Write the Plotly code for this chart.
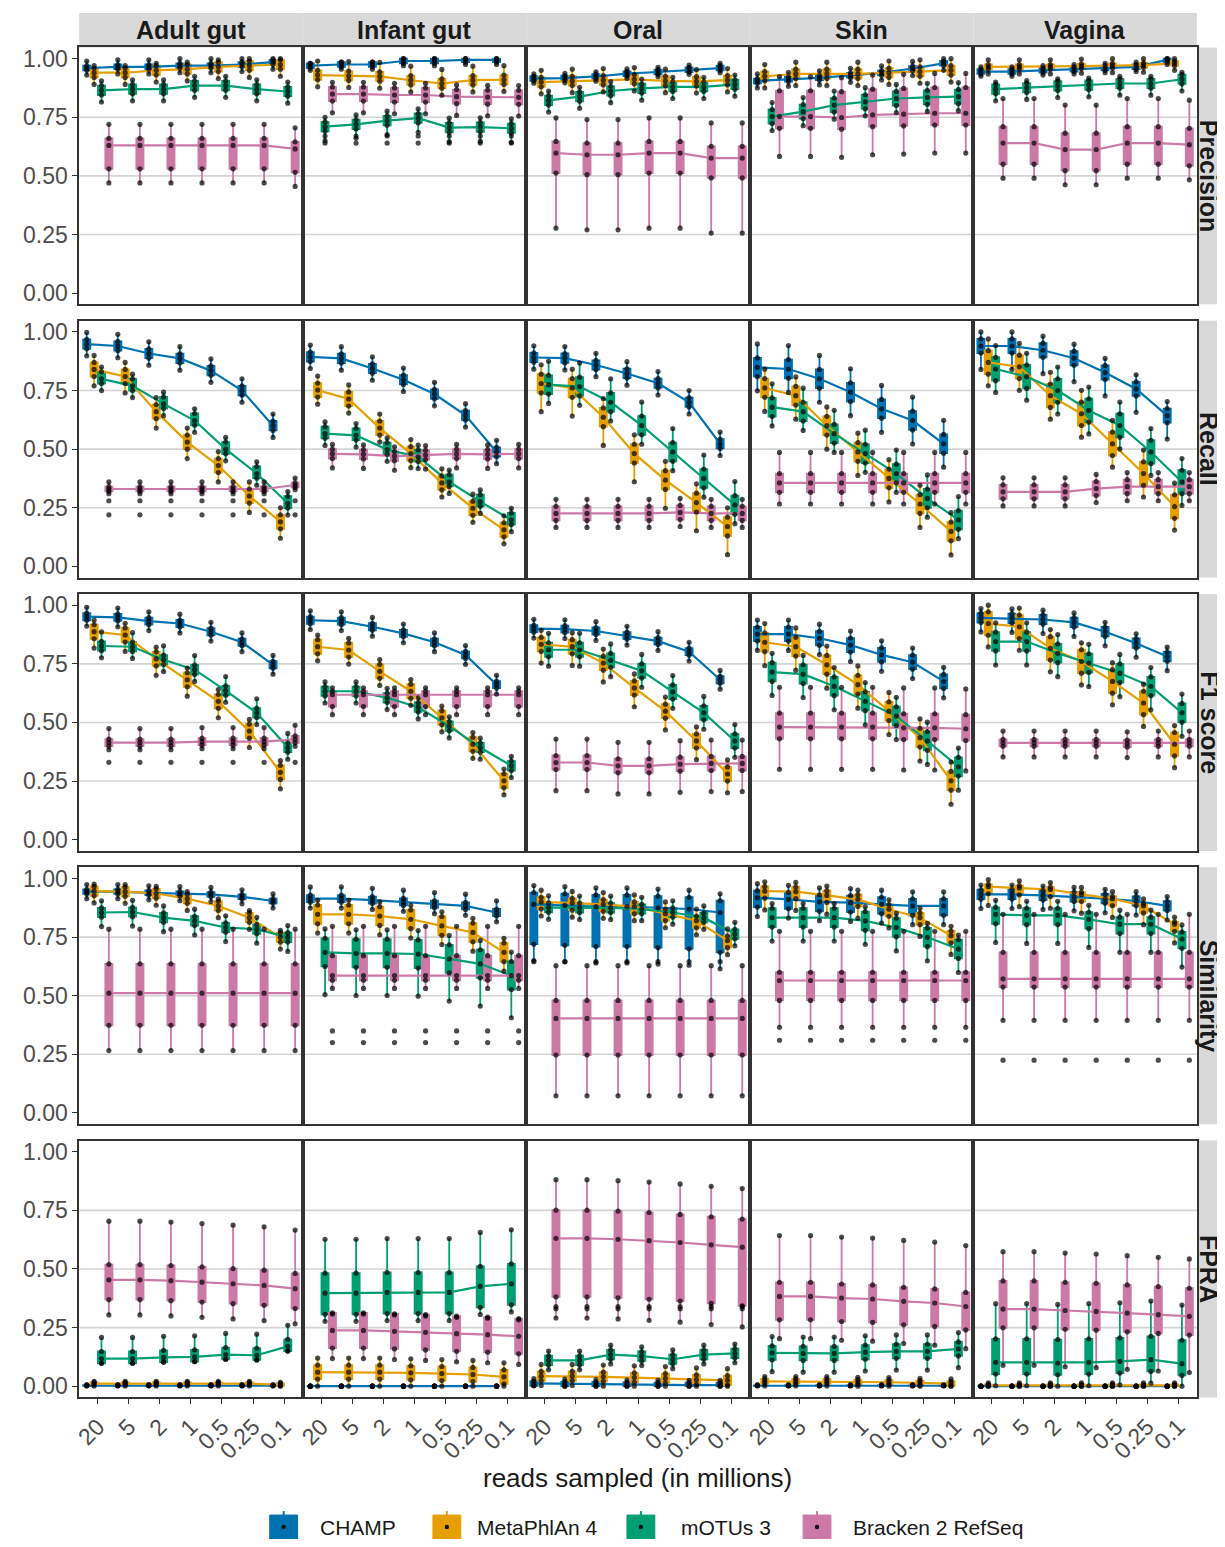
import plotly.graph_objects as go

# ---------------- data ----------------
DEPTHS = ["20", "5", "2", "1", "0.5", "0.25", "0.1"]
ENVIRONMENTS = ["Adult gut", "Infant gut", "Oral", "Skin", "Vagina"]
TOOLS = ["CHAMP", "MetaPhlAn 4", "mOTUs 3", "Bracken 2 RefSeq"]
METRICS = ["Precision", "Recall", "F1 score", "Similarity", "FPRA"]
COLORS = ["#0072B2", "#E69F00", "#009E73", "#CC79A7"]

# medians per environment: one list of 7 depths per tool (CHAMP, MetaPhlAn 4, mOTUs 3, Bracken)
PRECISION_MEDIANS = {
    "Adult gut": [[0.960, 0.965, 0.965, 0.970, 0.970, 0.975, 0.985],
                  [0.940, 0.940, 0.950, 0.955, 0.965, 0.970, 0.975],
                  [0.865, 0.870, 0.870, 0.885, 0.885, 0.870, 0.860],
                  [0.630, 0.630, 0.630, 0.630, 0.630, 0.630, 0.615]],
    "Infant gut": [[0.970, 0.975, 0.975, 0.990, 0.990, 0.995, 0.995],
                   [0.930, 0.927, 0.924, 0.908, 0.894, 0.908, 0.910],
                   [0.710, 0.720, 0.736, 0.746, 0.706, 0.708, 0.703],
                   [0.849, 0.849, 0.845, 0.845, 0.838, 0.836, 0.835]],
    "Oral": [[0.915, 0.917, 0.924, 0.936, 0.943, 0.953, 0.960],
             [0.900, 0.905, 0.908, 0.912, 0.905, 0.903, 0.908],
             [0.822, 0.838, 0.862, 0.873, 0.880, 0.880, 0.890],
             [0.597, 0.590, 0.590, 0.597, 0.597, 0.576, 0.576]],
    "Skin": [[0.905, 0.912, 0.918, 0.929, 0.939, 0.958, 0.980],
             [0.925, 0.935, 0.935, 0.935, 0.940, 0.945, 0.950],
             [0.753, 0.774, 0.802, 0.816, 0.830, 0.835, 0.838],
             [0.753, 0.753, 0.749, 0.760, 0.763, 0.767, 0.767]],
    "Vagina": [[0.945, 0.945, 0.950, 0.955, 0.960, 0.965, 0.995],
               [0.965, 0.965, 0.965, 0.968, 0.970, 0.972, 0.980],
               [0.870, 0.876, 0.884, 0.887, 0.894, 0.894, 0.912],
               [0.640, 0.640, 0.612, 0.612, 0.640, 0.640, 0.633]],
}
RECALL_MEDIANS = {
    "Adult gut": [[0.948, 0.940, 0.908, 0.887, 0.835, 0.750, 0.600],
                  [0.840, 0.810, 0.660, 0.530, 0.430, 0.300, 0.190],
                  [0.800, 0.770, 0.693, 0.622, 0.500, 0.396, 0.269],
                  [0.330, 0.330, 0.330, 0.330, 0.330, 0.330, 0.347]],
    "Infant gut": [[0.894, 0.887, 0.844, 0.796, 0.735, 0.644, 0.488],
                   [0.752, 0.714, 0.590, 0.481, 0.356, 0.248, 0.156],
                   [0.566, 0.559, 0.498, 0.467, 0.361, 0.276, 0.198],
                   [0.480, 0.478, 0.470, 0.475, 0.480, 0.478, 0.480]],
    "Oral": [[0.891, 0.888, 0.859, 0.823, 0.781, 0.700, 0.523],
             [0.780, 0.761, 0.636, 0.481, 0.368, 0.272, 0.170],
             [0.775, 0.767, 0.700, 0.601, 0.488, 0.375, 0.262],
             [0.226, 0.226, 0.226, 0.226, 0.230, 0.226, 0.226]],
    "Skin": [[0.849, 0.842, 0.800, 0.743, 0.672, 0.622, 0.523],
             [0.761, 0.728, 0.600, 0.488, 0.375, 0.266, 0.149],
             [0.679, 0.660, 0.566, 0.481, 0.396, 0.290, 0.198],
             [0.356, 0.356, 0.356, 0.356, 0.356, 0.356, 0.356]],
    "Vagina": [[0.940, 0.940, 0.922, 0.888, 0.827, 0.757, 0.643],
               [0.870, 0.851, 0.728, 0.651, 0.523, 0.396, 0.255],
               [0.842, 0.809, 0.750, 0.665, 0.601, 0.488, 0.360],
               [0.318, 0.318, 0.318, 0.332, 0.340, 0.340, 0.340]],
}
F1_MEDIANS = {
    "Adult gut": [[0.951, 0.948, 0.932, 0.922, 0.887, 0.842, 0.746],
                  [0.887, 0.873, 0.771, 0.682, 0.590, 0.463, 0.287],
                  [0.826, 0.823, 0.767, 0.725, 0.636, 0.541, 0.393],
                  [0.414, 0.414, 0.414, 0.418, 0.418, 0.418, 0.428]],
    "Infant gut": [[0.936, 0.932, 0.908, 0.880, 0.842, 0.788, 0.661],
                   [0.823, 0.809, 0.718, 0.633, 0.520, 0.407, 0.251],
                   [0.633, 0.633, 0.605, 0.565, 0.484, 0.393, 0.315],
                   [0.618, 0.618, 0.618, 0.618, 0.618, 0.618, 0.618]],
    "Oral": [[0.900, 0.898, 0.890, 0.870, 0.847, 0.802, 0.682],
             [0.833, 0.823, 0.753, 0.647, 0.548, 0.421, 0.280],
             [0.810, 0.810, 0.765, 0.720, 0.630, 0.541, 0.421],
             [0.329, 0.329, 0.315, 0.315, 0.322, 0.325, 0.325]],
    "Skin": [[0.877, 0.877, 0.859, 0.830, 0.788, 0.757, 0.675],
             [0.842, 0.823, 0.746, 0.661, 0.548, 0.435, 0.251],
             [0.715, 0.706, 0.654, 0.590, 0.527, 0.421, 0.311],
             [0.480, 0.480, 0.480, 0.480, 0.477, 0.477, 0.473]],
    "Vagina": [[0.946, 0.944, 0.939, 0.927, 0.887, 0.838, 0.781],
               [0.922, 0.908, 0.816, 0.760, 0.675, 0.583, 0.407],
               [0.845, 0.845, 0.795, 0.753, 0.710, 0.654, 0.541],
               [0.413, 0.413, 0.413, 0.413, 0.410, 0.413, 0.413]],
}
SIMILARITY_MEDIANS = {
    "Adult gut": [[0.944, 0.944, 0.939, 0.935, 0.932, 0.922, 0.904],
                  [0.946, 0.944, 0.936, 0.914, 0.883, 0.833, 0.749],
                  [0.855, 0.857, 0.833, 0.819, 0.791, 0.784, 0.749],
                  [0.511, 0.511, 0.511, 0.511, 0.511, 0.511, 0.511]],
    "Infant gut": [[0.914, 0.914, 0.908, 0.900, 0.890, 0.883, 0.855],
                   [0.847, 0.847, 0.840, 0.826, 0.798, 0.770, 0.685],
                   [0.685, 0.681, 0.681, 0.678, 0.657, 0.636, 0.586],
                   [0.586, 0.586, 0.586, 0.586, 0.586, 0.586, 0.586]],
    "Oral": [[0.890, 0.885, 0.880, 0.880, 0.875, 0.870, 0.855],
             [0.900, 0.895, 0.890, 0.880, 0.850, 0.820, 0.735],
             [0.876, 0.875, 0.875, 0.870, 0.855, 0.833, 0.763],
             [0.403, 0.403, 0.403, 0.403, 0.403, 0.403, 0.403]],
    "Skin": [[0.918, 0.911, 0.900, 0.897, 0.890, 0.883, 0.883],
             [0.946, 0.944, 0.928, 0.911, 0.869, 0.833, 0.756],
             [0.833, 0.833, 0.833, 0.819, 0.791, 0.749, 0.699],
             [0.565, 0.565, 0.565, 0.565, 0.565, 0.565, 0.565]],
    "Vagina": [[0.932, 0.932, 0.928, 0.922, 0.914, 0.904, 0.883],
               [0.965, 0.960, 0.953, 0.932, 0.914, 0.883, 0.805],
               [0.847, 0.843, 0.843, 0.826, 0.805, 0.805, 0.742],
               [0.572, 0.572, 0.572, 0.572, 0.572, 0.572, 0.572]],
}
FPRA_MEDIANS = {
    "Adult gut": [[0.002, 0.002, 0.002, 0.002, 0.002, 0.002, 0.002],
                  [0.011, 0.011, 0.011, 0.011, 0.011, 0.011, 0.007],
                  [0.118, 0.118, 0.123, 0.125, 0.135, 0.132, 0.170],
                  [0.454, 0.454, 0.450, 0.444, 0.437, 0.430, 0.416]],
    "Infant gut": [[0.000, 0.000, 0.000, 0.000, 0.000, 0.000, 0.000],
                   [0.060, 0.060, 0.060, 0.057, 0.054, 0.050, 0.040],
                   [0.397, 0.397, 0.400, 0.400, 0.400, 0.426, 0.437],
                   [0.238, 0.238, 0.234, 0.230, 0.224, 0.220, 0.213]],
    "Oral": [[0.012, 0.010, 0.008, 0.006, 0.005, 0.005, 0.005],
             [0.043, 0.043, 0.040, 0.037, 0.034, 0.028, 0.025],
             [0.110, 0.110, 0.135, 0.128, 0.115, 0.135, 0.140],
             [0.631, 0.631, 0.627, 0.621, 0.613, 0.603, 0.593]],
    "Skin": [[0.002, 0.002, 0.002, 0.002, 0.002, 0.002, 0.002],
             [0.021, 0.021, 0.021, 0.018, 0.017, 0.014, 0.011],
             [0.142, 0.140, 0.140, 0.145, 0.149, 0.149, 0.159],
             [0.383, 0.383, 0.376, 0.372, 0.362, 0.355, 0.340]],
    "Vagina": [[0.000, 0.000, 0.000, 0.000, 0.000, 0.000, 0.000],
               [0.004, 0.004, 0.004, 0.004, 0.004, 0.004, 0.004],
               [0.102, 0.102, 0.099, 0.102, 0.106, 0.113, 0.096],
               [0.329, 0.329, 0.323, 0.319, 0.312, 0.305, 0.298]],
}

# spread read per tool: [q1 - median, q3 - median, lower whisker - median, upper whisker - median]
PRECISION_SPREAD = {
    "Adult gut": [[-0.01, 0.01, -0.03, 0.03], [-0.02, 0.02, -0.05, 0.03],
                  [-0.02, 0.02, -0.05, 0.04], [-0.10, 0.03, -0.16, 0.09]],
    "Infant gut": [[-0.01, 0.01, -0.02, 0.01], [-0.02, 0.02, -0.05, 0.06],
                   [-0.02, 0.02, -0.06, 0.04], [-0.03, 0.03, -0.08, 0.05]],
    "Oral": [[-0.01, 0.01, -0.02, 0.02], [-0.02, 0.02, -0.05, 0.05],
             [-0.02, 0.02, -0.05, 0.04], [-0.085, 0.05, -0.32, 0.15]],
    "Skin": [[-0.01, 0.01, -0.03, 0.03], [-0.02, 0.02, -0.05, 0.05],
             [-0.03, 0.03, -0.06, 0.06], [-0.05, 0.11, -0.17, 0.17]],
    "Vagina": [[-0.01, 0.01, -0.02, 0.02], [-0.01, 0.01, -0.03, 0.03],
               [-0.02, 0.02, -0.05, 0.03], [-0.09, 0.07, -0.15, 0.19]],
}
RECALL_SPREAD = {
    "Adult gut": [[-0.02, 0.02, -0.05, 0.05], [-0.03, 0.03, -0.07, 0.06],
                  [-0.02, 0.03, -0.05, 0.05], [-0.01, 0.01, -0.02, 0.03]],
    "Infant gut": [[-0.02, 0.02, -0.05, 0.05], [-0.03, 0.03, -0.06, 0.06],
                   [-0.02, 0.03, -0.05, 0.05], [-0.02, 0.02, -0.06, 0.04]],
    "Oral": [[-0.02, 0.02, -0.05, 0.05], [-0.04, 0.04, -0.12, 0.08],
             [-0.04, 0.04, -0.08, 0.10], [-0.03, 0.03, -0.06, 0.06]],
    "Skin": [[-0.04, 0.04, -0.10, 0.10], [-0.04, 0.04, -0.10, 0.08],
             [-0.04, 0.04, -0.08, 0.10], [-0.04, 0.04, -0.09, 0.13]],
    "Vagina": [[-0.03, 0.03, -0.10, 0.06], [-0.05, 0.05, -0.10, 0.10],
               [-0.05, 0.05, -0.10, 0.10], [-0.03, 0.03, -0.06, 0.06]],
}
F1_SPREAD = {
    "Adult gut": [[-0.015, 0.015, -0.04, 0.04], [-0.03, 0.03, -0.07, 0.05],
                  [-0.02, 0.02, -0.05, 0.06], [-0.015, 0.015, -0.03, 0.06]],
    "Infant gut": [[-0.015, 0.015, -0.04, 0.04], [-0.03, 0.03, -0.06, 0.05],
                   [-0.02, 0.02, -0.05, 0.04], [-0.05, 0.015, -0.085, 0.03]],
    "Oral": [[-0.015, 0.015, -0.04, 0.04], [-0.03, 0.03, -0.08, 0.06],
             [-0.03, 0.03, -0.07, 0.07], [-0.03, 0.03, -0.12, 0.10]],
    "Skin": [[-0.03, 0.03, -0.07, 0.06], [-0.04, 0.04, -0.10, 0.08],
             [-0.04, 0.04, -0.10, 0.08], [-0.05, 0.06, -0.18, 0.17]],
    "Vagina": [[-0.02, 0.02, -0.06, 0.04], [-0.05, 0.05, -0.10, 0.08],
               [-0.04, 0.04, -0.10, 0.08], [-0.015, 0.015, -0.06, 0.05]],
}
SIMILARITY_SPREAD = {
    "Adult gut": [[-0.01, 0.01, -0.03, 0.03], [-0.02, 0.02, -0.05, 0.03],
                  [-0.02, 0.02, -0.06, 0.05], [-0.137, 0.125, -0.245, 0.273]],
    "Infant gut": [[-0.015, 0.015, -0.04, 0.05], [-0.04, 0.04, -0.08, 0.06],
                   [-0.06, 0.06, -0.18, 0.10], [-0.02, 0.085, -0.055, 0.21]],
    "Oral": [[-0.17, 0.05, -0.24, 0.08], [-0.03, 0.02, -0.06, 0.05],
             [-0.02, 0.02, -0.05, 0.05], [-0.156, 0.077, -0.33, 0.225]],
    "Skin": [[-0.04, 0.03, -0.08, 0.06], [-0.03, 0.02, -0.08, 0.04],
             [-0.04, 0.04, -0.10, 0.06], [-0.085, 0.035, -0.20, 0.21]],
    "Vagina": [[-0.02, 0.02, -0.06, 0.04], [-0.03, 0.01, -0.08, 0.03],
               [-0.04, 0.03, -0.12, 0.06], [-0.035, 0.113, -0.177, 0.275]],
}
FPRA_SPREAD = {
    "Adult gut": [[0.0, 0.003, 0.0, 0.005], [-0.005, 0.005, -0.01, 0.01],
                  [-0.02, 0.03, -0.02, 0.09], [-0.085, 0.065, -0.15, 0.25]],
    "Infant gut": [[0.0, 0.0, 0.0, 0.0], [-0.03, 0.03, -0.06, 0.06],
                   [-0.09, 0.085, -0.12, 0.23], [-0.075, 0.075, -0.12, 0.07]],
    "Oral": [[-0.01, 0.01, -0.01, 0.02], [-0.02, 0.02, -0.04, 0.05],
             [-0.02, 0.02, -0.04, 0.04], [-0.25, 0.12, -0.34, 0.25]],
    "Skin": [[0.0, 0.002, 0.0, 0.005], [-0.01, 0.01, -0.02, 0.02],
             [-0.03, 0.03, -0.08, 0.07], [-0.10, 0.06, -0.18, 0.26]],
    "Vagina": [[0.0, 0.0, 0.0, 0.0], [-0.004, 0.004, -0.004, 0.01],
               [-0.05, 0.10, -0.10, 0.25], [-0.08, 0.12, -0.24, 0.245]],
}

# isolated points outside the whiskers (same values seen at every depth)
OUTLIERS = {
    "Precision": {"Infant gut": {2: [0.67, 0.64]}},
    "Recall": {"Adult gut": {3: [0.28, 0.22]}},
    "F1 score": {"Adult gut": {3: [0.33]}},
    "Similarity": {"Oral": {0: [0.645]}, "Infant gut": {3: [0.35, 0.30]},
                   "Skin": {3: [0.31]}, "Vagina": {3: [0.225]}},
    "FPRA": {"Oral": {3: [0.34, 0.33]}},
}

MEDIANS = [PRECISION_MEDIANS, RECALL_MEDIANS, F1_MEDIANS, SIMILARITY_MEDIANS, FPRA_MEDIANS]
SPREADS = [PRECISION_SPREAD, RECALL_SPREAD, F1_SPREAD, SIMILARITY_SPREAD, FPRA_SPREAD]

# ---------------- layout geometry (screen pixels) ----------------
PAGE_MARGIN = 8          # default body margin of the html page
W, H = 1225 - PAGE_MARGIN, 1547 - 2 * PAGE_MARGIN
PANEL_LEFT, PANEL_W = 73.5, 224.65
PANEL_TOP, PANEL_H, ROW_STEP = 45.5, 257.6, 274.0
DODGE = 0.2375
BOX_W = 0.23
FONT = "Liberation Sans, Arial, Helvetica, sans-serif"
LEGEND_ICON_X = [279, 443, 638, 815]
LEGEND_TEXT_X = [314, 471, 676, 849]
LEGEND_Y = 1529


def fx(p):
    return (p - PAGE_MARGIN) / W


def fy(p):
    return 1 - (p - PAGE_MARGIN) / H


def clip(v):
    return max(0.0, min(1.0, v))


fig = go.Figure()
layout = {}
shapes = []
annotations = []

for r, metric in enumerate(METRICS):
    for c, env in enumerate(ENVIRONMENTS):
        k = r * 5 + c + 1
        xa = "x" if k == 1 else f"x{k}"
        ya = "y" if k == 1 else f"y{k}"
        dot_x, dot_y = [], []
        out_x, out_y = [], []
        panel_out = OUTLIERS.get(metric, {}).get(env, {})
        for t, tool in enumerate(TOOLS):
            med = MEDIANS[r][env][t]
            q1o, q3o, loo, hio = SPREADS[r][env][t]
            xs = [i + 1 + (t - 1.5) * DODGE for i in range(len(DEPTHS))]
            q1 = [clip(m + q1o) for m in med]
            q3 = [clip(m + q3o) for m in med]
            lo = [clip(m + loo) for m in med]
            hi = [clip(m + hio) for m in med]
            fig.add_trace(go.Box(
                x=xs, q1=q1, median=med, q3=q3, lowerfence=lo, upperfence=hi,
                xaxis=xa, yaxis=ya, width=BOX_W, whiskerwidth=0,
                fillcolor=COLORS[t], line=dict(color=COLORS[t], width=1.8),
                boxpoints=False, name=tool, showlegend=False, hoverinfo="skip"))
            fig.add_trace(go.Scatter(
                x=xs, y=med, mode="lines", xaxis=xa, yaxis=ya,
                line=dict(color=COLORS[t], width=2.2), showlegend=False,
                hoverinfo="skip"))
            for arr in (lo, q1, med, q3, hi):
                dot_x += xs
                dot_y += arr
            for v in panel_out.get(t, []):
                out_x += xs
                out_y += [v] * len(xs)
        fig.add_trace(go.Scatter(
            x=dot_x + out_x, y=dot_y + out_y, mode="markers", xaxis=xa, yaxis=ya,
            marker=dict(color="rgba(0,0,0,0.7)", size=5.2, line=dict(width=0)),
            showlegend=False, hoverinfo="skip"))

        x0 = PANEL_LEFT + c * PANEL_W
        x1 = x0 + PANEL_W
        y0 = PANEL_TOP + r * ROW_STEP
        y1 = y0 + PANEL_H
        bottom = (r == len(METRICS) - 1)
        left = (c == 0)
        layout["xaxis" if k == 1 else f"xaxis{k}"] = dict(
            domain=[fx(x0), fx(x1)], anchor=ya, range=[0.4, 7.6],
            tickmode="array", tickvals=list(range(1, 8)), ticktext=DEPTHS,
            showticklabels=bottom, ticks="outside" if bottom else "",
            ticklen=5, tickwidth=1.3, tickcolor="#333333", tickangle=-45,
            tickfont=dict(size=23, color="#4D4D4D", family=FONT),
            showgrid=False, zeroline=False, showline=True, mirror=True,
            linecolor="#333333", linewidth=1.6, fixedrange=True)
        layout["yaxis" if k == 1 else f"yaxis{k}"] = dict(
            domain=[fy(y1), fy(y0)], anchor=xa, range=[-0.048, 1.048],
            tickmode="array", tickvals=[0, 0.25, 0.5, 0.75, 1.0],
            ticktext=["0.00", "0.25", "0.50", "0.75", "1.00"],
            showticklabels=left, ticks="outside" if left else "",
            ticklen=5, tickwidth=1.3, tickcolor="#333333",
            tickfont=dict(size=23, color="#4D4D4D", family=FONT),
            showgrid=False, zeroline=False, showline=True, mirror=True,
            linecolor="#333333", linewidth=1.6, fixedrange=True)
        for g in (0.25, 0.5, 0.75):
            shapes.append(dict(type="line", xref=f"{xa} domain", yref=ya,
                               x0=0, x1=1, y0=g, y1=g, layer="below",
                               line=dict(color="#D4D4D4", width=1.6)))

# column strips
for c, env in enumerate(ENVIRONMENTS):
    x0 = PANEL_LEFT + c * PANEL_W
    x1 = x0 + PANEL_W
    shapes.append(dict(type="rect", xref="paper", yref="paper",
                       x0=fx(x0), x1=fx(x1), y0=fy(45.5), y1=fy(11),
                       fillcolor="#D9D9D9", line=dict(width=0), layer="below"))
    annotations.append(dict(text=f"<b>{env}</b>", xref="paper", yref="paper",
                            x=fx((x0 + x1) / 2), y=fy(28.5), showarrow=False,
                            xanchor="center", yanchor="middle",
                            font=dict(size=25, color="#1A1A1A", family=FONT)))
# row strips
for r, metric in enumerate(METRICS):
    y0 = PANEL_TOP + r * ROW_STEP
    y1 = y0 + PANEL_H
    shapes.append(dict(type="rect", xref="paper", yref="paper",
                       x0=fx(1197.5), x1=fx(1226), y0=fy(y1), y1=fy(y0),
                       fillcolor="#D9D9D9", line=dict(width=0), layer="below"))
    annotations.append(dict(text=f"<b>{metric}</b>", xref="paper", yref="paper",
                            x=fx(1209), y=fy((y0 + y1) / 2), showarrow=False,
                            textangle=90, xanchor="center", yanchor="middle",
                            font=dict(size=25, color="#1A1A1A", family=FONT)))

annotations.append(dict(text="reads sampled (in millions)", xref="paper", yref="paper",
                        x=fx(635), y=fy(1480), showarrow=False,
                        xanchor="center", yanchor="middle",
                        font=dict(size=26, color="#1A1A1A", family=FONT)))

# legend keys (box glyph with whisker and point) built from TOOLS / COLORS
for t, tool in enumerate(TOOLS):
    cx = LEGEND_ICON_X[t]
    shapes.append(dict(type="line", xref="paper", yref="paper",
                       x0=fx(cx), x1=fx(cx), y0=fy(LEGEND_Y + 16), y1=fy(LEGEND_Y - 16),
                       line=dict(color=COLORS[t], width=2)))
    shapes.append(dict(type="rect", xref="paper", yref="paper",
                       x0=fx(cx - 14), x1=fx(cx + 14),
                       y0=fy(LEGEND_Y + 12), y1=fy(LEGEND_Y - 12),
                       fillcolor=COLORS[t], line=dict(color=COLORS[t], width=1)))
    shapes.append(dict(type="circle", xref="paper", yref="paper",
                       x0=fx(cx - 2.2), x1=fx(cx + 2.2),
                       y0=fy(LEGEND_Y + 2.2), y1=fy(LEGEND_Y - 2.2),
                       fillcolor="#111111", line=dict(width=0)))
    annotations.append(dict(text=tool, xref="paper", yref="paper",
                            x=fx(LEGEND_TEXT_X[t]), y=fy(LEGEND_Y), showarrow=False,
                            xanchor="left", yanchor="middle",
                            font=dict(size=21, color="#1A1A1A", family=FONT)))

fig.update_layout(
    width=W, height=H, margin=dict(l=0, r=0, t=0, b=0),
    paper_bgcolor="white", plot_bgcolor="white",
    font=dict(family=FONT),
    shapes=shapes, annotations=annotations,
    showlegend=False,
    **layout,
)

fig.write_html("out.html")
